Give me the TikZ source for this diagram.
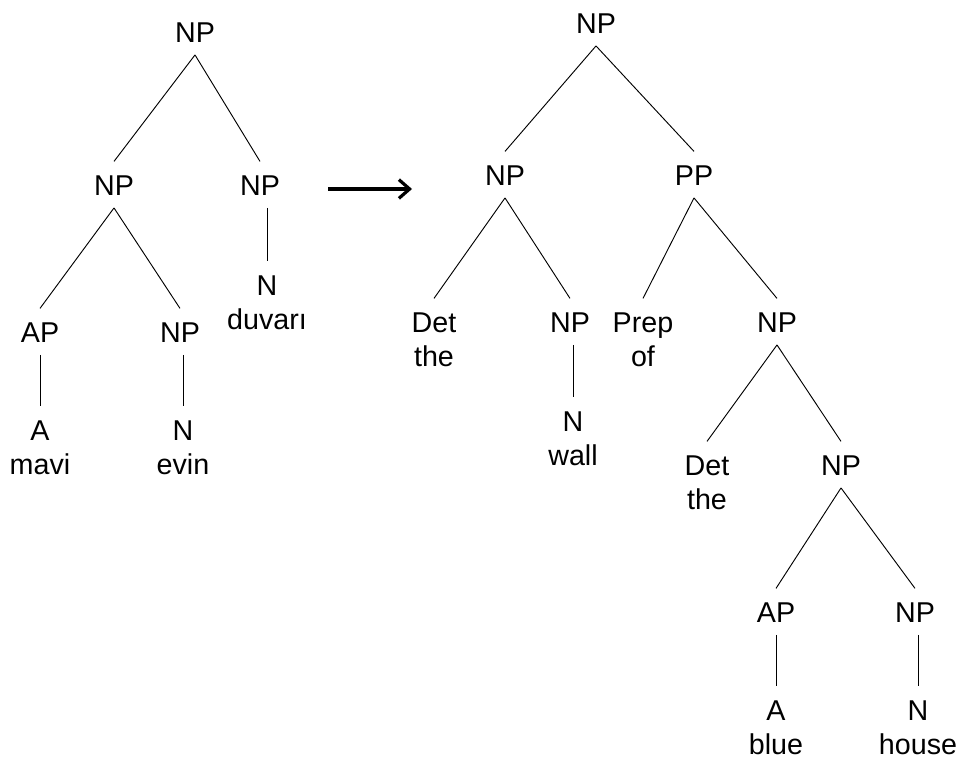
\documentclass[tikz,border=0pt]{standalone}
\usepackage{fontspec}
\setmainfont{Liberation Sans}
\usetikzlibrary{arrows.meta}
\tikzset{
  cat/.style={font=\fontsize{21.5}{25}\selectfont, anchor=base, inner xsep=2pt, inner ysep=9.5pt, text height=15.5pt, text depth=0pt},
  wd/.style={font=\fontsize{21.5}{25}\selectfont, anchor=base, inner sep=0pt},
  branch/.style={line width=0.7pt},
  arrowln/.style={line width=2.4pt, -{Straight Barb[length=8pt,width=14pt]}}
}
\begin{document}
\begin{tikzpicture}[x=0.75pt,y=-0.75pt]
\useasboundingbox (0,0) rectangle (960,760);
% Turkish tree
\node[cat] (lroot) at (195,42){NP};
\node[cat] (lnp1) at (114,195){NP};
\node[cat] (lnp2) at (260,195){NP};
\node[cat] (lap) at (40,342){AP};
\node[cat] (lnp3) at (180,342){NP};
\node[cat] (la) at (40,440){A};
\node[wd] (mavi) at ([yshift=-26pt]la.base){mavi};
\node[cat] (ln1) at (183,440){N};
\node[wd] (evin) at ([yshift=-26pt]ln1.base){evin};
\node[cat] (ln2) at (267,295){N};
\node[wd] (duvari) at ([yshift=-26pt]ln2.base){duvarı};
\draw[branch](lroot.south) -- (lnp1.north);
\draw[branch](lroot.south) -- (lnp2.north);
\draw[branch](lnp1.south) -- (lap.north);
\draw[branch](lnp1.south) -- (lnp3.north);
\draw[branch](la.north |- lap.south) -- (la.north);
\draw[branch](ln1.north |- lnp3.south) -- (ln1.north);
\draw[branch](ln2.north |- lnp2.south) -- (ln2.north);
% arrow
\coordinate (arrS) at (328,189);
\coordinate (arrE) at (412,189);
\draw[arrowln](arrS) -- (arrE);
% English tree
\node[cat] (rroot) at (596,33){NP};
\node[cat] (rnp1) at (505,185){NP};
\node[cat] (rpp) at (694,185){PP};
\node[cat] (rdet1) at (434,332){Det};
\node[wd] (the1) at ([yshift=-26pt]rdet1.base){the};
\node[cat] (rnp2) at (570,332){NP};
\node[cat] (rn1) at (573,431){N};
\node[wd] (wall) at ([yshift=-26pt]rn1.base){wall};
\node[cat] (rprep) at (643,332){Prep};
\node[wd] (of) at ([yshift=-26pt]rprep.base){of};
\node[cat] (rnp3) at (777,332){NP};
\node[cat] (rdet2) at (707,475){Det};
\node[wd] (the2) at ([yshift=-26pt]rdet2.base){the};
\node[cat] (rnp4) at (841,475){NP};
\node[cat] (rap) at (776,622){AP};
\node[cat] (ra) at (776,720){A};
\node[wd] (blue) at ([yshift=-26pt]ra.base){blue};
\node[cat] (rnp5) at (915,622){NP};
\node[cat] (rn2) at (918,720){N};
\node[wd] (house) at ([yshift=-26pt]rn2.base){house};
\draw[branch](rroot.south) -- (rnp1.north);
\draw[branch](rroot.south) -- (rpp.north);
\draw[branch](rnp1.south) -- (rdet1.north);
\draw[branch](rnp1.south) -- (rnp2.north);
\draw[branch](rn1.north |- rnp2.south) -- (rn1.north);
\draw[branch](rpp.south) -- (rprep.north);
\draw[branch](rpp.south) -- (rnp3.north);
\draw[branch](rnp3.south) -- (rdet2.north);
\draw[branch](rnp3.south) -- (rnp4.north);
\draw[branch](rnp4.south) -- (rap.north);
\draw[branch](rnp4.south) -- (rnp5.north);
\draw[branch](ra.north |- rap.south) -- (ra.north);
\draw[branch](rn2.north |- rnp5.south) -- (rn2.north);
\end{tikzpicture}
\end{document}
